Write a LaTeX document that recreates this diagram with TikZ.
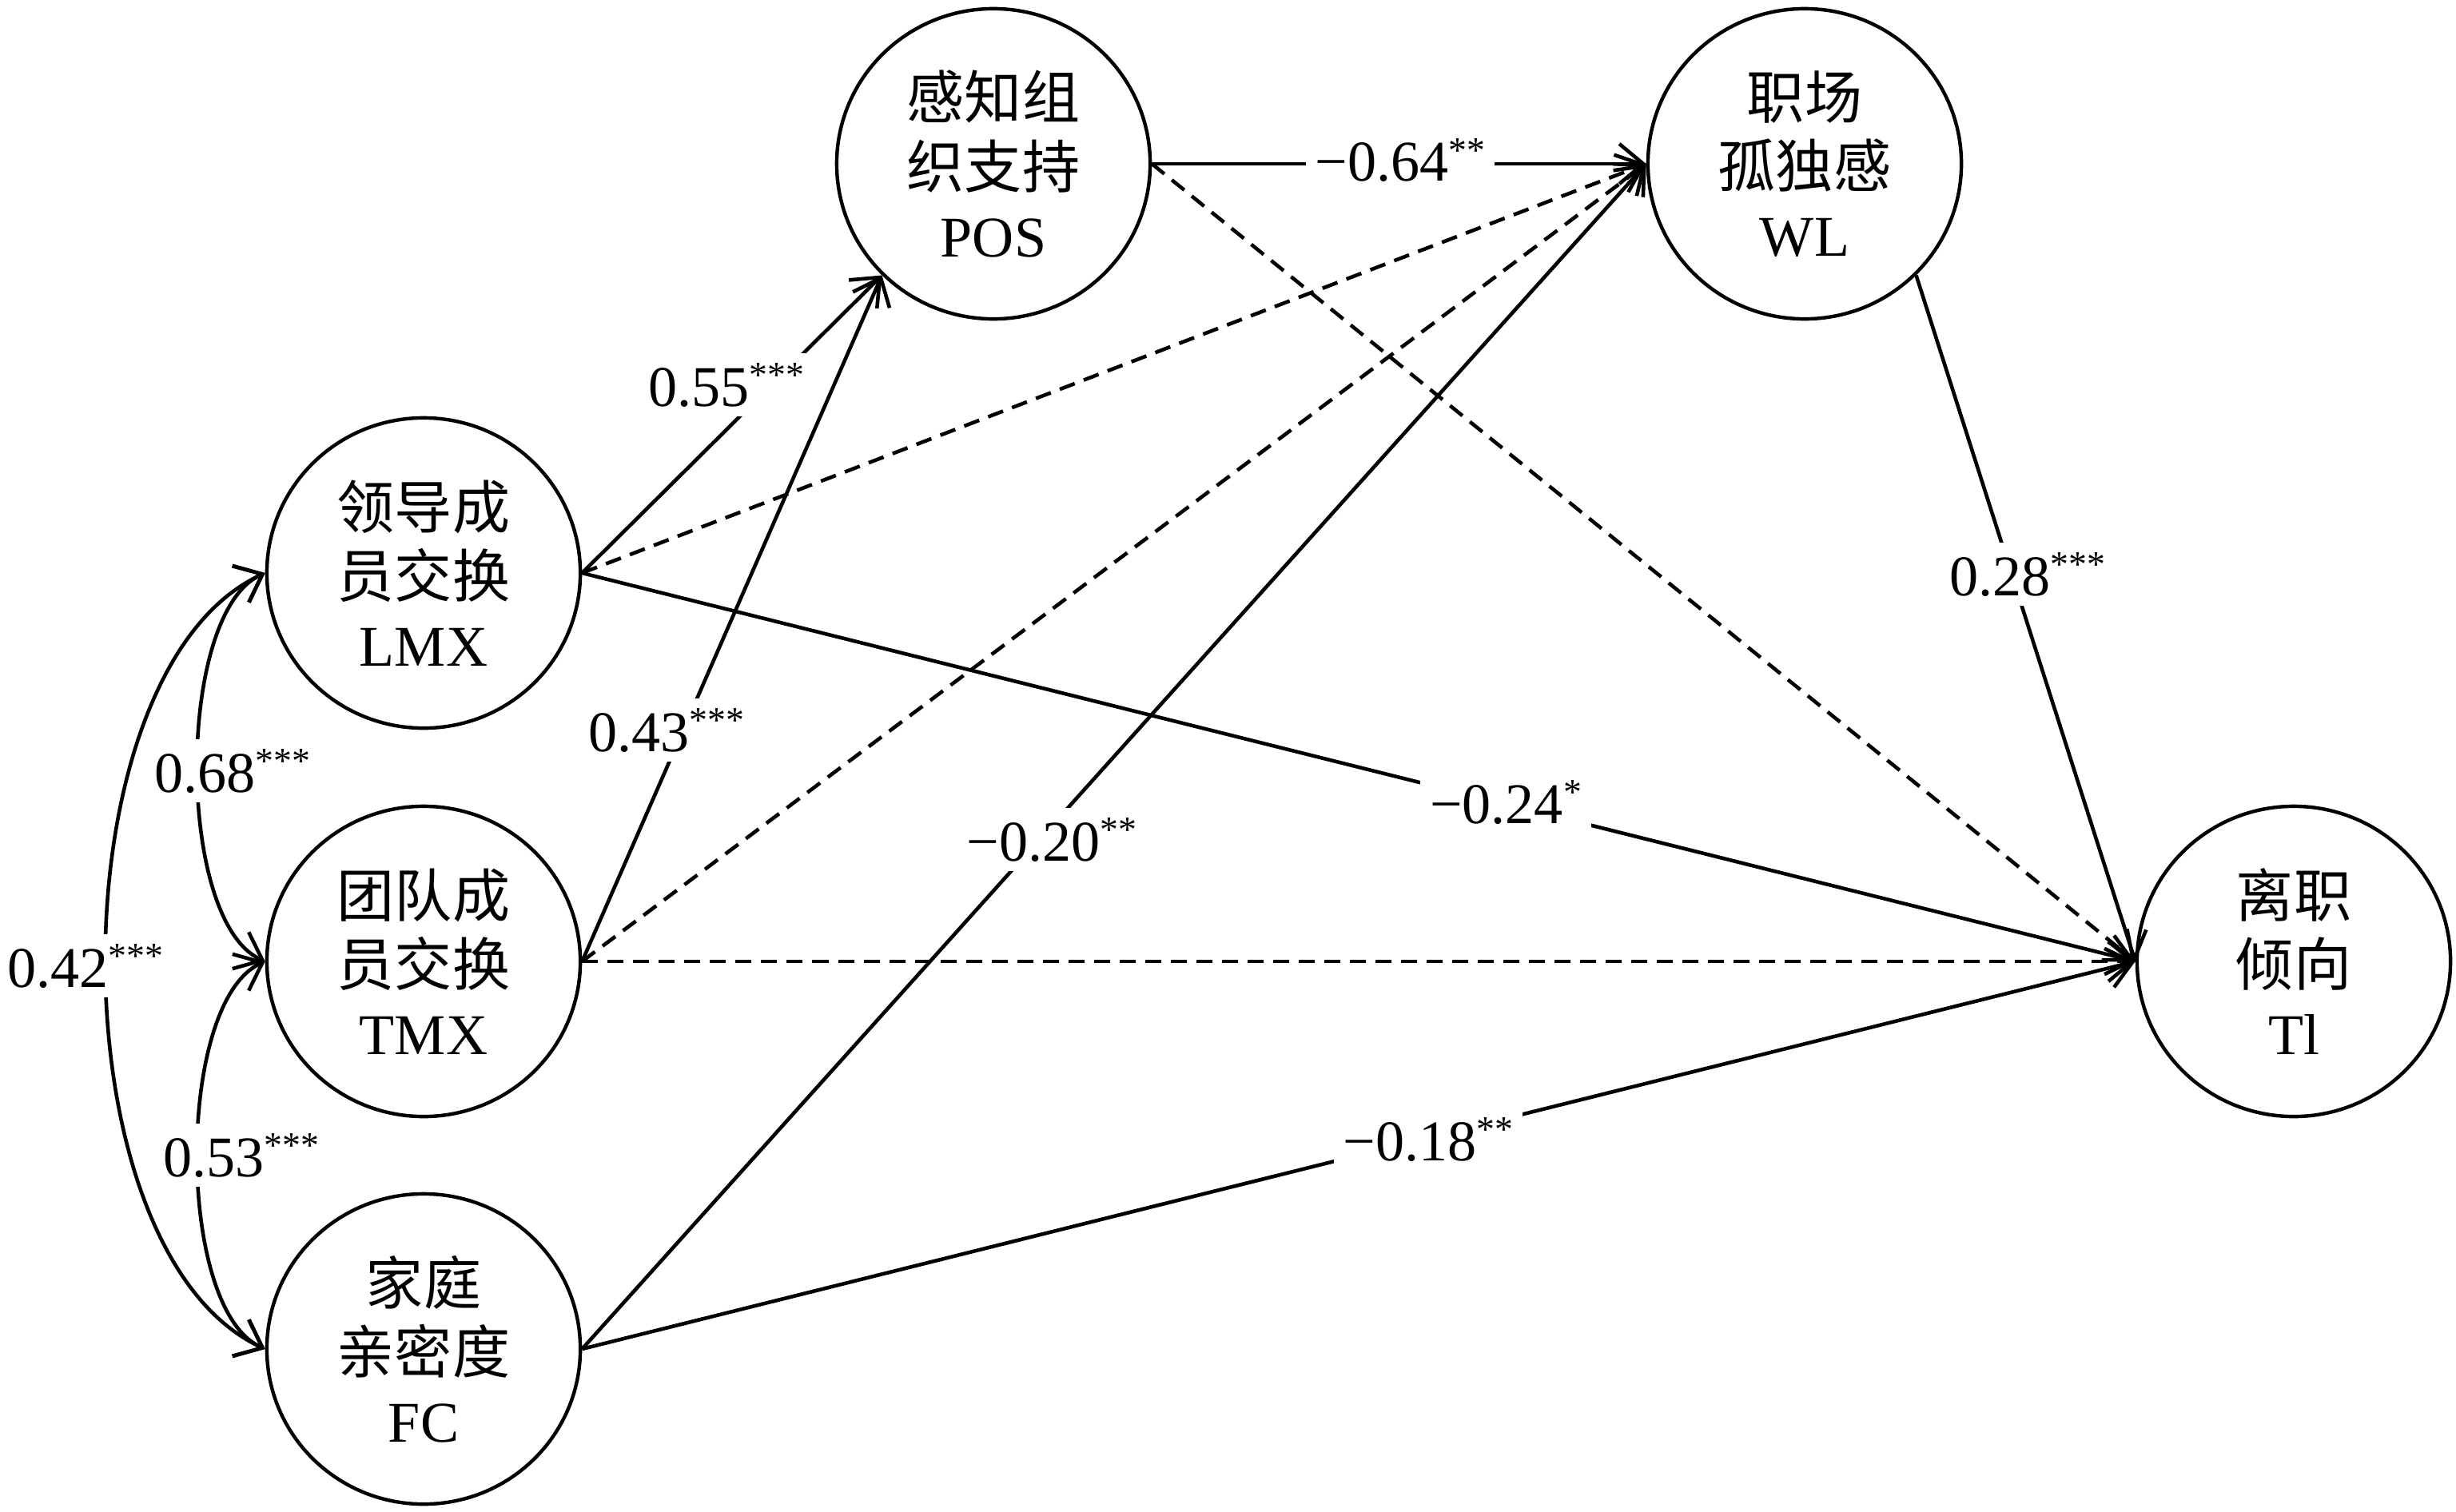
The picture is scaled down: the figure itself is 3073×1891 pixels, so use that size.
\documentclass[tikz,border=0pt]{standalone}
\usepackage{fontspec}
\setmainfont{Liberation Serif}
\newfontfamily\cjk{Noto Sans CJK SC}
\usetikzlibrary{arrows.meta,shapes.geometric}
\newcommand\sig[1]{\raisebox{0.33em}{\fontsize{13pt}{13pt}\selectfont #1}}
\begin{document}
\begin{tikzpicture}[x=0.01cm,y=-0.01cm,
  every node/.style={font=\fontsize{20.5pt}{24.5pt}\selectfont},
  var/.style={ellipse,draw,line width=1.25pt,minimum width=3.92cm,minimum height=3.88cm,inner sep=0pt,align=center},
  coef/.style={fill=white,inner sep=1.2mm,anchor=base},
  tipstyle/.style={>={Straight Barb[length=3mm,width=5mm]}},
  arr/.style={tipstyle,line width=1.3pt,->},
  darr/.style={arr,dash pattern=on 2mm off 1.2mm},
  cov/.style={tipstyle,line width=1.3pt,<->}
]
\useasboundingbox (0,0) rectangle (3073,1891);
% variables
\node[var] (POS) at (1243,205) {{\cjk 感知组}\\{\cjk 织支持}\\POS};
\node[var] (WL)  at (2258,205) {{\cjk 职场}\\{\cjk 孤独感}\\WL};
\node[var] (LMX) at (530,717)  {{\cjk 领导成}\\{\cjk 员交换}\\LMX};
\node[var] (TMX) at (530,1203) {{\cjk 团队成}\\{\cjk 员交换}\\TMX};
\node[var] (FC)  at (530,1688) {{\cjk 家庭}\\{\cjk 亲密度}\\FC};
\node[var] (TI)  at (2870,1203) {{\cjk 离职}\\{\cjk 倾向}\\Tl};
% paths
\draw[arr]  (LMX.east) -- (POS.-135);
\draw[arr]  (TMX.east) -- (POS.-135);
\draw[darr] (LMX.east) -- (WL.west);
\draw[darr] (TMX.east) -- (WL.west);
\draw[arr]  (FC.east)  -- (WL.west);
\draw[arr]  (POS.east) -- (WL.west);
\draw[darr] (POS.east) -- (TI.west);
\draw[arr]  (WL.-45)   -- (TI.west);
\draw[arr]  (LMX.east) -- (TI.west);
\draw[darr] (TMX.east) -- (TI.west);
\draw[arr]  (FC.east)  -- (TI.west);
% covariances
\draw[cov] (LMX.west) .. controls +(-112,50) and +(-112,-50) .. (TMX.west);
\draw[cov] (TMX.west) .. controls +(-112,50) and +(-112,-50) .. (FC.west);
\draw[cov] (LMX.west) .. controls +(-265,122) and +(-265,-122) .. (FC.west);
% coefficients
\node[coef] (c1)  at (909,508)   {0.55\sig{***}};
\node[coef] (c2)  at (834,940)   {0.43\sig{***}};
\node[coef] (c3)  at (1752,227)  {−0.64\sig{**}};
\node[coef] (c4)  at (2537,745)  {0.28\sig{***}};
\node[coef] (c5)  at (1884,1030) {−0.24\sig{*}};
\node[coef] (c6)  at (1316,1077) {−0.20\sig{**}};
\node[coef] (c7)  at (1787,1452) {−0.18\sig{**}};
\node[coef] (c8)  at (291,991)   {0.68\sig{***}};
\node[coef] (c9)  at (107,1235)  {0.42\sig{***}};
\node[coef] (c10) at (302,1472)  {0.53\sig{***}};
\end{tikzpicture}
\end{document}
